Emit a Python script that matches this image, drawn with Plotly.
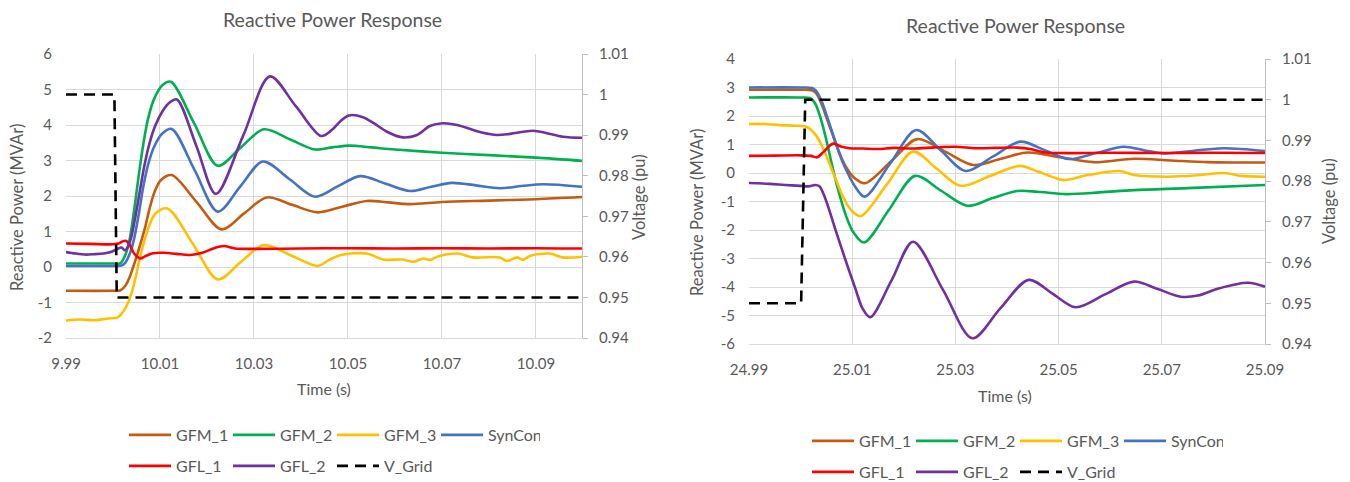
import plotly.graph_objects as go

W, H = 1350, 482
FONT = "Lato"
TXT = "#595959"
GRID = "#d9d9d9"
AXL = "#bfbfbf"

names = ["GFM_1", "GFM_2", "GFM_3", "SynCon", "GFL_1", "GFL_2", "V_Grid"]
colors = ["#C55A11", "#00B050", "#FFC000", "#4472C4", "#FF0000", "#7030A0", "#000000"]

# ---------------- Left chart (event at 10.0 s) ----------------
L_gfm1_t = [9.99, 10.0, 10.0015, 10.0025, 10.0035, 10.0043, 10.0055, 10.0068, 10.0077, 10.0088, 10.0102,
            10.0125, 10.0178, 10.0231, 10.0279, 10.0327, 10.0381, 10.0436, 10.0488, 10.054, 10.0586,
            10.0632, 10.07, 10.08, 10.09, 10.0998]
L_gfm1_q = [-0.67, -0.67, -0.66, -0.55, -0.3, 0.0, 0.5, 1.1, 1.6, 2.1, 2.45,
            2.59, 1.83, 1.06, 1.51, 1.96, 1.75, 1.54, 1.7, 1.86, 1.82,
            1.77, 1.83, 1.87, 1.91, 1.97]

L_gfm2_t = [9.99, 10.0, 10.0015, 10.0025, 10.0035, 10.0045, 10.0055, 10.0065, 10.0075, 10.0088, 10.0105,
            10.0123, 10.0173, 10.0223, 10.0272, 10.0321, 10.0376, 10.043, 10.0467, 10.0504, 10.055,
            10.06, 10.07, 10.08, 10.09, 10.0998]
L_gfm2_q = [0.1, 0.1, 0.1, 0.3, 0.75, 1.6, 2.6, 3.5, 4.2, 4.75, 5.12,
            5.22, 4.04, 2.85, 3.37, 3.88, 3.6, 3.31, 3.37, 3.42, 3.37,
            3.31, 3.22, 3.15, 3.08, 2.99]

L_gfm3_t = [9.99, 9.993, 9.996, 9.999, 10.001, 10.0018, 10.0028, 10.0038, 10.0048, 10.0058, 10.0068,
            10.0078, 10.009, 10.0116, 10.017, 10.0223, 10.0272, 10.0321, 10.0378, 10.0436, 10.046,
            10.0485, 10.054, 10.0575, 10.0615, 10.064, 10.066, 10.0675, 10.069, 10.0732, 10.0766,
            10.0823, 10.0838, 10.086, 10.0872, 10.0887, 10.0929, 10.0957, 10.0998]
L_gfm3_q = [-1.51, -1.48, -1.5, -1.45, -1.42, -1.32, -1.12, -0.8, -0.3, 0.3, 0.8,
            1.2, 1.5, 1.65, 0.65, -0.35, 0.14, 0.62, 0.33, 0.03, 0.2,
            0.34, 0.38, 0.21, 0.21, 0.15, 0.24, 0.2, 0.29, 0.38, 0.27,
            0.27, 0.17, 0.27, 0.2, 0.31, 0.38, 0.27, 0.29]

L_syn_t = [9.99, 10.0, 10.0018, 10.0025, 10.0035, 10.0045, 10.0055, 10.0065, 10.0075, 10.0088, 10.0105,
           10.0125, 10.0174, 10.0223, 10.0271, 10.0319, 10.0375, 10.043, 10.0478, 10.0526, 10.0579,
           10.0632, 10.0677, 10.0721, 10.0772, 10.0823, 10.0869, 10.0915, 10.0998]
L_syn_q = [0.03, 0.03, 0.04, 0.1, 0.35, 0.8, 1.5, 2.3, 2.9, 3.4, 3.76,
           3.89, 2.72, 1.56, 2.27, 2.97, 2.48, 1.98, 2.27, 2.56, 2.35,
           2.14, 2.26, 2.37, 2.3, 2.22, 2.28, 2.33, 2.26]

L_gfl1_t = [9.99, 9.995, 10.0, 10.0012, 10.002, 10.0027, 10.0034, 10.0045, 10.0058, 10.0068, 10.0085,
            10.011, 10.0135, 10.0164, 10.019, 10.0215, 10.0236, 10.026, 10.03, 10.04, 10.05,
            10.06, 10.07, 10.08, 10.09, 10.0998]
L_gfl1_q = [0.66, 0.65, 0.64, 0.66, 0.72, 0.74, 0.66, 0.38, 0.24, 0.3, 0.39,
            0.4, 0.37, 0.34, 0.4, 0.53, 0.59, 0.52, 0.51, 0.52, 0.53,
            0.52, 0.53, 0.52, 0.53, 0.52]

L_gfl2_t = [9.99, 9.992, 9.994, 9.996, 9.998, 9.9995, 10.0008, 10.0018, 10.0025, 10.0031, 10.0038,
            10.0046, 10.0056, 10.0066, 10.0076, 10.0089, 10.0106, 10.0121, 10.0136, 10.0178, 10.0219,
            10.0277, 10.0334, 10.0389, 10.0443, 10.0465, 10.0485, 10.0502, 10.0532, 10.0555, 10.0583,
            10.0617, 10.0647, 10.0674, 10.0702, 10.0732, 10.0787, 10.0817, 10.0845, 10.0894, 10.0923,
            10.0957, 10.0998]
L_gfl2_q = [0.42, 0.38, 0.35, 0.36, 0.38, 0.42, 0.5, 0.55, 0.47, 0.55, 0.8,
            1.3, 2.05, 2.8, 3.4, 3.95, 4.4, 4.64, 4.72, 3.39, 2.06,
            3.7, 5.37, 4.53, 3.69, 3.85, 4.12, 4.27, 4.22, 4.05, 3.81,
            3.65, 3.72, 3.97, 4.05, 4.0, 3.78, 3.72, 3.75, 3.84, 3.77,
            3.67, 3.64]

L_vg_t = [9.99, 10.0003, 10.0008, 10.0998]
L_vg_v = [1.0, 1.0, 0.95, 0.95]

# ---------------- Right chart (event at 25.0 s) ----------------
R_gfm1_t = [24.99, 25.0, 25.0022, 25.003, 25.004, 25.005, 25.006, 25.007, 25.008, 25.009, 25.0103,
            25.0125, 25.0176, 25.0226, 25.0281, 25.0335, 25.0388, 25.044, 25.0504, 25.0568, 25.0646,
            25.0717, 25.0789, 25.085, 25.09]
R_gfm1_q = [2.92, 2.92, 2.9, 2.8, 2.45, 1.95, 1.45, 0.95, 0.5, 0.15, -0.15,
            -0.36, 0.42, 1.19, 0.74, 0.28, 0.5, 0.72, 0.55, 0.38, 0.5,
            0.44, 0.38, 0.37, 0.37]

R_gfm2_t = [24.99, 25.0, 25.0018, 25.0028, 25.004, 25.005, 25.006, 25.007, 25.008, 25.009, 25.0103,
            25.0123, 25.0172, 25.0222, 25.0272, 25.0323, 25.0372, 25.042, 25.046, 25.0515, 25.058,
            25.0646, 25.075, 25.09]
R_gfm2_q = [2.65, 2.65, 2.63, 2.45, 1.85, 1.15, 0.35, -0.4, -1.05, -1.6, -2.1,
            -2.44, -1.27, -0.1, -0.62, -1.15, -0.88, -0.63, -0.66, -0.74, -0.68,
            -0.6, -0.53, -0.42]

R_gfm3_t = [24.99, 24.993, 24.996, 24.999, 25.001, 25.002, 25.003, 25.004, 25.005, 25.006, 25.007,
            25.008, 25.009, 25.0102, 25.0117, 25.0168, 25.0218, 25.0264, 25.031, 25.0368, 25.0425,
            25.046, 25.049, 25.051, 25.0557, 25.0619, 25.0646, 25.0712, 25.0776, 25.0821, 25.0854,
            25.09]
R_gfm3_q = [1.72, 1.72, 1.68, 1.66, 1.63, 1.52, 1.32, 1.0, 0.6, 0.15, -0.3,
            -0.75, -1.1, -1.38, -1.51, -0.38, 0.75, 0.15, -0.45, -0.1, 0.25,
            0.05, -0.15, -0.25, -0.07, 0.07, -0.07, -0.13, -0.07, 0.0, -0.1,
            -0.13]

R_syn_t = [24.99, 25.0, 25.0022, 25.003, 25.004, 25.005, 25.006, 25.007, 25.008, 25.009, 25.0103,
           25.0124, 25.0174, 25.0224, 25.0272, 25.032, 25.0373, 25.0426, 25.0473, 25.052, 25.0573,
           25.0626, 25.0665, 25.0704, 25.0762, 25.082, 25.09]
R_syn_q = [3.0, 3.0, 2.98, 2.88, 2.55, 2.05, 1.5, 0.95, 0.45, 0.05, -0.4,
           -0.83, 0.34, 1.51, 0.79, 0.07, 0.58, 1.1, 0.8, 0.49, 0.7,
           0.92, 0.8, 0.69, 0.78, 0.87, 0.77]

R_gfl1_t = [24.99, 24.995, 25.0, 25.002, 25.0032, 25.0045, 25.0063, 25.0078, 25.0095, 25.012, 25.015,
            25.018, 25.022, 25.026, 25.03, 25.034, 25.038, 25.042, 25.0445, 25.047, 25.05,
            25.06, 25.07, 25.08, 25.09]
R_gfl1_q = [0.6, 0.61, 0.62, 0.6, 0.55, 0.75, 1.03, 0.93, 0.87, 0.86, 0.84,
            0.88, 0.86, 0.9, 0.92, 0.87, 0.88, 0.89, 0.84, 0.73, 0.7,
            0.71, 0.7, 0.71, 0.7]

R_gfl2_t = [24.99, 24.994, 24.997, 25.0, 25.0015, 25.0028, 25.0036, 25.0048, 25.0067, 25.0086, 25.0106,
            25.012, 25.0135, 25.0177, 25.0218, 25.0276, 25.0333, 25.0387, 25.0442, 25.0488, 25.0533,
            25.059, 25.0646, 25.0692, 25.0737, 25.077, 25.081, 25.0867, 25.09]
R_gfl2_q = [-0.35, -0.38, -0.42, -0.45, -0.47, -0.42, -0.46, -0.9, -1.96, -3.0, -4.05,
            -4.75, -5.06, -3.74, -2.41, -4.1, -5.8, -4.75, -3.75, -4.23, -4.71,
            -4.26, -3.81, -4.07, -4.34, -4.3, -4.05, -3.85, -3.99]

R_vg_t = [24.99, 25.0001, 25.0009, 25.09]
R_vg_v = [0.95, 0.95, 1.0, 1.0]

# tick labels
L_x_ticks = [9.99, 10.01, 10.03, 10.05, 10.07, 10.09]
R_x_ticks = [24.99, 25.01, 25.03, 25.05, 25.07, 25.09]
L_q_ticks = [-2, -1, 0, 1, 2, 3, 4, 5, 6]
R_q_ticks = [-6, -5, -4, -3, -2, -1, 0, 1, 2, 3, 4]
v_ticks = [0.94, 0.95, 0.96, 0.97, 0.98, 0.99, 1.0, 1.01]
v_tick_text = ["0.94", "0.95", "0.96", "0.97", "0.98", "0.99", "1", "1.01"]

left_series = [(L_gfm1_t, L_gfm1_q), (L_gfm2_t, L_gfm2_q), (L_gfm3_t, L_gfm3_q), (L_syn_t, L_syn_q),
               (L_gfl1_t, L_gfl1_q), (L_gfl2_t, L_gfl2_q)]
right_series = [(R_gfm1_t, R_gfm1_q), (R_gfm2_t, R_gfm2_q), (R_gfm3_t, R_gfm3_q), (R_syn_t, R_syn_q),
                (R_gfl1_t, R_gfl1_q), (R_gfl2_t, R_gfl2_q)]

fig = go.Figure()


def add_chart(series, vg_t, vg_v, xa, ya, ya2, leg_a, leg_b):
    for i, (t, q) in enumerate(series):
        fig.add_trace(go.Scatter(
            x=t, y=q, name=names[i], mode="lines", xaxis=xa, yaxis=ya,
            line=dict(color=colors[i], width=2.6, shape="spline", smoothing=0.9),
            legend=leg_a if i < 4 else leg_b, hoverinfo="skip"))
    fig.add_trace(go.Scatter(
        x=vg_t, y=vg_v, name=names[6], mode="lines", xaxis=xa, yaxis=ya2,
        line=dict(color=colors[6], width=2.6, dash="11px,7px"),
        legend=leg_b, hoverinfo="skip"))


add_chart(left_series, L_vg_t, L_vg_v, "x", "y", "y2", "legend", "legend2")
add_chart(right_series, R_vg_t, R_vg_v, "x2", "y3", "y4", "legend3", "legend4")


def px_x(p):
    return p / W


def px_y(p):
    return 1 - p / H


tickfont = dict(family=FONT, size=15, color=TXT)

LXD = [px_x(66), px_x(582)]
LYD = [px_y(338), px_y(54)]
RXD = [px_x(749), px_x(1265)]
RYD = [px_y(344), px_y(59)]


def xaxis_cfg(dom, ticks, anchor, xmax):
    return dict(domain=dom, range=[ticks[0], xmax],
                tickvals=ticks, ticktext=[f"{v:.2f}" for v in ticks], anchor=anchor,
                showgrid=True, gridcolor=GRID, gridwidth=1, zeroline=False,
                showline=True, linecolor=GRID, linewidth=1, ticks="",
                tickfont=tickfont, ticklabelstandoff=12, fixedrange=True, automargin=False)


def yaxis_cfg(dom, ticks, anchor):
    return dict(domain=dom, range=[ticks[0], ticks[-1]], tickvals=ticks,
                ticktext=[str(v) for v in ticks], anchor=anchor,
                showgrid=True, gridcolor=GRID, gridwidth=1, zeroline=False,
                showline=False, ticks="", tickfont=tickfont, ticklabelstandoff=13,
                fixedrange=True, automargin=False)


def y2_cfg(over, anchor):
    return dict(overlaying=over, side="right", anchor=anchor, range=[0.94, 1.01 + 1e-9],
                tickvals=v_ticks, ticktext=v_tick_text, showgrid=False, zeroline=False,
                showline=True, linecolor=AXL, linewidth=1, ticks="outside", ticklen=5,
                tickcolor=AXL, tickfont=tickfont, ticklabelstandoff=8, fixedrange=True,
                automargin=False)


def legend_cfg(xp, yp):
    return dict(orientation="h", x=px_x(xp), y=px_y(yp), xanchor="left", yanchor="middle",
                font=dict(family=FONT, size=16, color=TXT), entrywidth=47,
                entrywidthmode="pixels", itemwidth=42, bgcolor="rgba(0,0,0,0)",
                borderwidth=0, tracegroupgap=0, itemclick=False, itemdoubleclick=False)


annots = []


def ann(text, xp, yp, size=16.5, angle=0):
    annots.append(dict(text=text, x=px_x(xp), y=px_y(yp), xref="paper", yref="paper",
                       showarrow=False, textangle=angle, xanchor="center", yanchor="middle",
                       font=dict(family=FONT, size=size, color=TXT)))


ann("Reactive Power Response", 332, 20, size=19.5)
ann("Reactive Power (MVAr)", 17, 208, angle=-90)
ann("Voltage (pu)", 639, 197, angle=-90)
ann("Time (s)", 324, 388, size=16)
ann("Reactive Power Response", 1015, 25, size=19.5)
ann("Reactive Power (MVAr)", 697, 212, angle=-90)
ann("Voltage (pu)", 1329, 201, angle=-90)
ann("Time (s)", 1005, 395, size=16)

fig.update_layout(
    width=W, height=H, autosize=False,
    margin=dict(l=0, r=0, t=0, b=0, pad=0, autoexpand=False),
    paper_bgcolor="white", plot_bgcolor="white",
    font=dict(family=FONT, color=TXT),
    xaxis=xaxis_cfg(LXD, L_x_ticks, "y", 10.0998),
    yaxis=yaxis_cfg(LYD, L_q_ticks, "x"),
    yaxis2=y2_cfg("y", "x"),
    xaxis2=xaxis_cfg(RXD, R_x_ticks, "y3", 25.09 + 1e-9),
    yaxis3=yaxis_cfg(RYD, R_q_ticks, "x2"),
    yaxis4=y2_cfg("y3", "x2"),
    legend=legend_cfg(124, 435),
    legend2=legend_cfg(124, 466),
    legend3=legend_cfg(807, 441),
    legend4=legend_cfg(807, 472),
    annotations=annots,
    showlegend=True,
)

fig.write_html("out.html")
